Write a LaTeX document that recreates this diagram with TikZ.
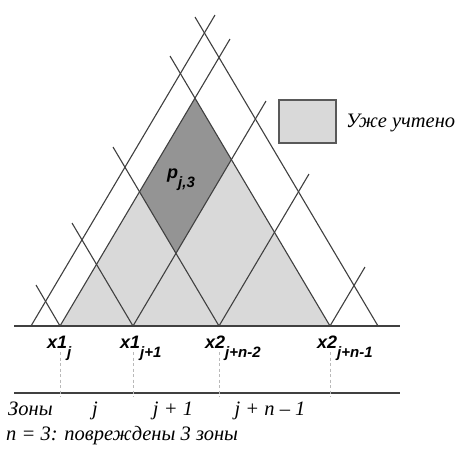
\documentclass[tikz,border=0pt]{standalone}
\usepackage{fontspec}
\setmainfont{Liberation Serif}
\setsansfont{Liberation Sans}
\usetikzlibrary{calc}

\newcommand{\xsub}[2]{#1\raisebox{-9pt}{\fontsize{15}{15}\selectfont #2}}

\begin{document}
\begin{tikzpicture}[x=1pt, y=-1pt,
        ln/.style={draw=black!75, line width=1.1pt},
        zone/.style={draw=gray!55, line width=0.6pt, dash pattern=on 3pt off 2.5pt},
        lbl/.style={font=\sffamily\bfseries\itshape\fontsize{18}{18}\selectfont, inner sep=0pt, anchor=base west},
        txt/.style={font=\itshape\fontsize{20.5}{20.5}\selectfont, inner sep=0pt}]
    \useasboundingbox[fill=white] (0,0) rectangle (458,453);
    % points on the axis
    \coordinate (p0) at (31,326);
    \coordinate (p1) at (60,326);
    \coordinate (p2) at (133,326);
    \coordinate (p3) at (219,326);
    \coordinate (p4) at (330,326);
    \coordinate (p5) at (378,326);
    % ends of the rising lines
    \coordinate (u0) at (215,15);
    \coordinate (u1) at (230,39);
    \coordinate (u2) at (266,101);
    \coordinate (u3) at (309,174);
    \coordinate (u4) at (365,267);
    % ends of the falling lines
    \coordinate (v1) at (36,285);
    \coordinate (v2) at (72,223);
    \coordinate (v3) at (113,147);
    \coordinate (v4) at (170,56);
    \coordinate (v5) at (195,17);
    % shaded areas
    \coordinate (top) at (intersection of p1--u1 and p4--v4);
    \fill[gray!30] (p1) -- (top) -- (p4) -- cycle;
    \fill[black!42] (intersection of p1--u1 and p3--v3) -- (top)
        -- (intersection of p2--u2 and p4--v4) -- (intersection of p2--u2 and p3--v3) -- cycle;
    \foreach \a/\b in {p0/u0, p1/u1, p2/u2, p3/u3, p4/u4, p1/v1, p2/v2, p3/v3, p4/v4, p5/v5}
        \draw[ln] (\a) -- (\b);
    % axis and zone line
    \coordinate (s0) at (14,326);
    \coordinate (s1) at (400,326);
    \coordinate (z0) at (14,393);
    \coordinate (z1) at (400,393);
    \draw[ln] (s0) -- (s1);
    \draw[ln, line width=1.7pt] (z0) -- (z1);
    \foreach \a in {p1, p2, p3, p4}
        \draw[zone] ($(\a)+(0,26)$) -- ($(\a |- z0)+(0,4)$);
    % labels
    \node[lbl] (l1) at ($(p1)+(-13,22)$) {\xsub{x1}{j}};
    \node[lbl] (l2) at ($(p2)+(-13,22)$) {\xsub{x1}{j+1}};
    \node[lbl] (l3) at ($(p3)+(-14,22)$) {\xsub{x2}{j+n-2}};
    \node[lbl] (l4) at ($(p4)+(-13,22)$) {\xsub{x2}{j+n-1}};
    \node[lbl] (pj) at (167,178) {\xsub{p}{j,3}};
    % legend
    \node[draw=black!65, line width=1.3pt, fill=gray!30, minimum width=57pt, minimum height=43pt, inner sep=0pt] (key) at (307.5,121.5) {};
    \node[txt, anchor=base west] (keytxt) at (346,127) {Уже учтено};
    % zones
    \node[txt, anchor=base west] (zn) at (8,415) {Зоны};
    \node[txt, anchor=base] (zj) at (95,415) {j};
    \node[txt, anchor=base] (zj1) at (173,415) {j + 1};
    \node[txt, anchor=base] (zjn) at (270,415) {j + n – 1};
    \node[txt, anchor=base west] (note) at (6,440) {n = 3: повреждены 3 зоны};
\end{tikzpicture}
\end{document}
